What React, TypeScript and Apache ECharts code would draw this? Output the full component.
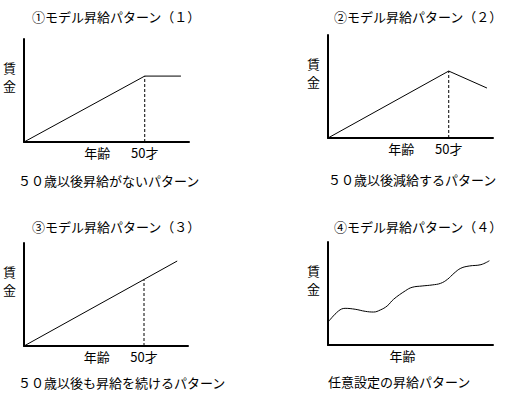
import React, { useEffect, useRef } from 'react';
import * as echarts from 'echarts';

const FONT = '"Noto Sans CJK JP", "Noto Sans CJK SC", sans-serif';

const panelTitles = [
  '①モデル昇給パターン（１）',
  '②モデル昇給パターン（２）',
  '③モデル昇給パターン（３）',
  '④モデル昇給パターン（４）',
];
const panelSubtitles = [
  '５０歳以後昇給がないパターン',
  '５０歳以後減給するパターン',
  '５０歳以後も昇給を続けるパターン',
  '任意設定の昇給パターン',
];

// ages (x) and wages (y, 0-100 relative)
const p1Ages = [20, 50, 59];
const p1Wages = [0, 64, 64];
const p2Ages = [20, 50, 59.5];
const p2Wages = [0, 65, 48.5];
const p3Ages = [20, 50, 58.3];
const p3Wages = [0, 64.6, 82.5];
const p4Ages = [20.1, 22.6, 24.25, 26.75, 29.25, 31.3, 33, 34.7, 36.3, 39.25, 40.9, 43.4, 45.9, 48, 49.7, 51.3, 53, 55.1, 58, 60.1];
const p4Wages = [22.6, 33, 35.6, 34.7, 32.7, 32, 34, 37.9, 44.4, 52.7, 56, 57.3, 58.3, 59.9, 63.8, 69.6, 74.5, 76.7, 78, 81.8];

const dashAge = 50; // vertical dashed marker at age 50 (panels 1-3)

const xTickLabels123 = [
  { value: 38.2, text: '年齢' },
  { value: 50, text: '50才' },
];
const xTickLabels4 = [{ value: 38.5, text: '年齢' }];
const yTickLabels = [
  { value: 72, text: '賃' },
  { value: 55, text: '金' },
];

const AGE_MIN = 20;
const AGE_MAX = 61;
const WAGE_MIN = 0;
const WAGE_MAX = 100;

const zip = (a: number[], b: number[]) => a.map((v, i) => [v, b[i]]);

export default function App() {
  const ref = useRef<HTMLDivElement>(null);
  useEffect(() => {
    if (!ref.current) return;
    const chart = echarts.init(ref.current, undefined, { renderer: 'svg' });

    const gridPos = [
      { left: 24, top: 39 },
      { left: 328, top: 35 },
      { left: 23, top: 243 },
      { left: 328, top: 242 },
    ];
    const titlePos = [
      { left: 32, top: 10 },
      { left: 334, top: 10 },
      { left: 32, top: 220 },
      { left: 334, top: 220 },
    ];
    const subPos = [
      { left: 18, top: 174 },
      { left: 328, top: 173 },
      { left: 18, top: 376 },
      { left: 328, top: 375 },
    ];
    const lines = [zip(p1Ages, p1Wages), zip(p2Ages, p2Wages), zip(p3Ages, p3Wages), zip(p4Ages, p4Wages)];
    const dashWage = [p1Wages[p1Ages.indexOf(dashAge)], p2Wages[p2Ages.indexOf(dashAge)], p3Wages[p3Ages.indexOf(dashAge)]];

    const mkFormatter = (labels: { value: number; text: string }[]) => (v: number) => {
      const f = labels.find((l) => Math.abs(l.value - v) < 0.01);
      return f ? f.text : '';
    };

    const textStyle = { fontFamily: FONT, fontSize: 13, fontWeight: 'normal' as const, color: '#000' };

    const option: any = {
      animation: false,
      backgroundColor: '#fff',
      title: [
        ...panelTitles.map((t, i) => ({ text: t, left: titlePos[i].left, top: titlePos[i].top, padding: 0, textStyle })),
        ...panelSubtitles.map((t, i) => ({ text: t, left: subPos[i].left, top: subPos[i].top, padding: 0, textStyle })),
      ],
      grid: gridPos.map((g) => ({ left: g.left, top: g.top, width: 165, height: 103, containLabel: false })),
      xAxis: gridPos.map((_, i) => ({
        type: 'value',
        gridIndex: i,
        min: AGE_MIN,
        max: AGE_MAX,
        axisLine: { show: true, onZero: false, lineStyle: { color: '#000', width: 2 } },
        axisTick: { show: false },
        splitLine: { show: false },
        axisLabel: {
          show: true,
          customValues: (i < 3 ? xTickLabels123 : xTickLabels4).map((l) => l.value),
          formatter: mkFormatter(i < 3 ? xTickLabels123 : xTickLabels4),
          margin: 4,
          fontFamily: FONT,
          fontSize: 13,
          color: '#000',
          hideOverlap: false,
        },
      })),
      yAxis: gridPos.map((_, i) => ({
        type: 'value',
        gridIndex: i,
        min: WAGE_MIN,
        max: WAGE_MAX,
        axisLine: { show: true, onZero: false, lineStyle: { color: '#000', width: 2 } },
        axisTick: { show: false },
        splitLine: { show: false },
        axisLabel: {
          show: true,
          customValues: yTickLabels.map((l) => l.value),
          formatter: mkFormatter(yTickLabels),
          margin: 8,
          fontFamily: FONT,
          fontSize: 13,
          color: '#000',
          hideOverlap: false,
        },
      })),
      series: [
        ...lines.map((d, i) => ({
          type: 'line',
          xAxisIndex: i,
          yAxisIndex: i,
          data: d,
          symbol: 'none',
          smooth: i === 3 ? 0.4 : false,
          lineStyle: { color: '#000', width: 1 },
          silent: true,
        })),
        ...dashWage.map((w, i) => ({
          type: 'line',
          xAxisIndex: i,
          yAxisIndex: i,
          data: [[dashAge, WAGE_MIN], [dashAge, w]],
          symbol: 'none',
          lineStyle: { color: '#000', width: 1, type: [3, 2] },
          silent: true,
        })),
      ],
    };
    chart.setOption(option);
    return () => chart.dispose();
  }, []);
  return <div ref={ref} style={{ position: 'fixed', left: 0, top: 0, width: 521, height: 405, background: '#fff' }} />;
}
